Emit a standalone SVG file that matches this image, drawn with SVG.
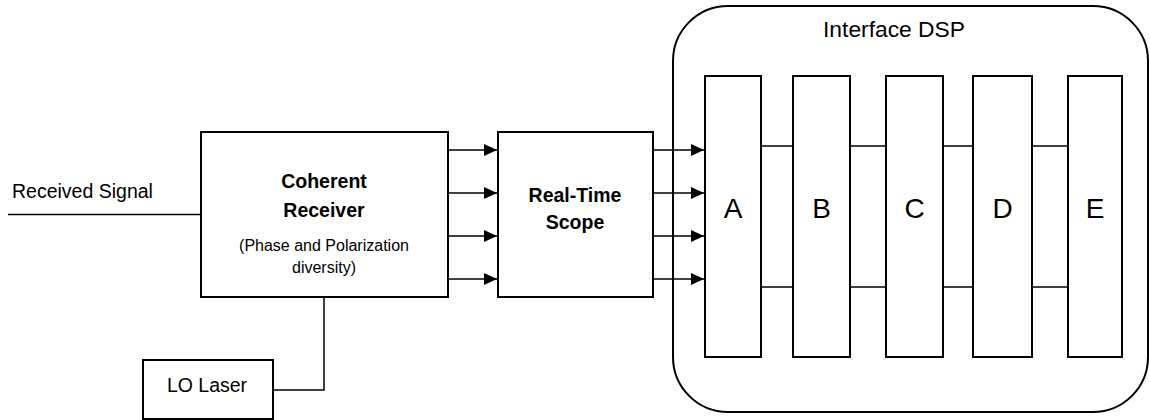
<svg xmlns="http://www.w3.org/2000/svg" width="1150" height="420" viewBox="0 0 1150 420">
<defs>
<style>
.box{fill:#fff;stroke:#000;stroke-width:2}
.ln{fill:none;stroke:#000;stroke-width:1.5}
text{font-family:"Liberation Sans",Arial,sans-serif;fill:#000}
.b{font-weight:bold;font-size:19.5px;text-anchor:middle}
.s{font-size:16px;text-anchor:middle}
.m{font-size:19.5px}
.big{font-size:28px;text-anchor:middle}
</style>
<marker id="ar" markerWidth="13" markerHeight="12" refX="13" refY="6" orient="auto" markerUnits="userSpaceOnUse">
<path d="M0,0 L13,6 L0,12 z" fill="#000"/>
</marker>
</defs>
<rect width="1150" height="420" fill="#fff"/>
<g id="connectors">
<path class="ln" d="M8,214.5 H201"/>
<path class="ln" d="M324,297 V390 H273"/>
<path class="ln" d="M448,150 H497" marker-end="url(#ar)"/>
<path class="ln" d="M448,193 H497" marker-end="url(#ar)"/>
<path class="ln" d="M448,236 H497" marker-end="url(#ar)"/>
<path class="ln" d="M448,279 H497" marker-end="url(#ar)"/>
<path class="ln" d="M653,150 H704" marker-end="url(#ar)"/>
<path class="ln" d="M653,193 H704" marker-end="url(#ar)"/>
<path class="ln" d="M653,236 H704" marker-end="url(#ar)"/>
<path class="ln" d="M653,279 H704" marker-end="url(#ar)"/>
<path class="ln" d="M761,146 H793 M850,146 H886 M943,146 H973 M1032,146 H1068"/>
<path class="ln" d="M761,287 H793 M850,287 H886 M943,287 H973 M1032,287 H1068"/>
</g>
<text class="m" x="12" y="198">Received Signal</text>
<g id="coherent">
<rect class="box" x="201" y="132" width="247" height="165"/>
<text class="b" x="324" y="188">Coherent</text>
<text class="b" x="324" y="216.5">Receiver</text>
<text class="s" x="324" y="251">(Phase and Polarization</text>
<text class="s" x="324" y="273">diversity)</text>
</g>
<g id="lo">
<rect class="box" x="143" y="360" width="130" height="59"/>
<text class="m" x="207" y="392" text-anchor="middle">LO Laser</text>
</g>
<g id="scope">
<rect class="box" x="498" y="132" width="155" height="165"/>
<text class="b" x="575" y="202">Real-Time</text>
<text class="b" x="575" y="229">Scope</text>
</g>
<g id="dsp">
<rect x="673" y="6" width="475" height="406" rx="55" ry="55" fill="none" stroke="#000" stroke-width="2"/>
<text x="894" y="36.5" text-anchor="middle" style="font-size:22.8px">Interface DSP</text>
</g>
<g id="A"><rect class="box" x="705" y="76" width="56" height="281"/><text class="big" x="733" y="218">A</text></g>
<g id="B"><rect class="box" x="793" y="76" width="57" height="281"/><text class="big" x="821.5" y="218">B</text></g>
<g id="C"><rect class="box" x="886" y="76" width="57" height="281"/><text class="big" x="914.5" y="218">C</text></g>
<g id="D"><rect class="box" x="973" y="76" width="59" height="281"/><text class="big" x="1002.5" y="218">D</text></g>
<g id="E"><rect class="box" x="1068" y="76" width="54" height="281"/><text class="big" x="1095" y="218">E</text></g>
</svg>
